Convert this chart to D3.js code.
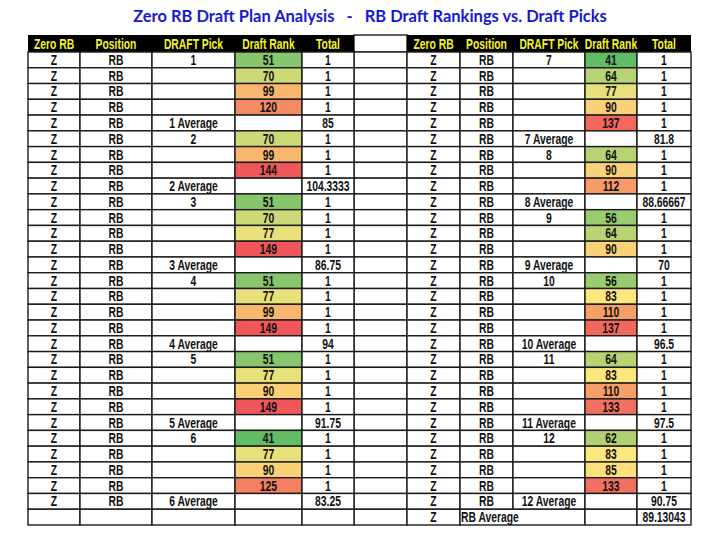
<!DOCTYPE html>
<html>
<head>
<meta charset="utf-8">
<script src="https://cdn.jsdelivr.net/npm/d3@7"></script>
<style>
  html, body { margin: 0; padding: 0; background: #fff; }
  svg { display: block; }
</style>
</head>
<body>
<svg id="chart" width="720" height="540"></svg>
<script>
const headers = ["Zero RB", "Position", "DRAFT Pick", "Draft Rank", "Total"];

// left half of the sheet
const leftZero = ["Z","Z","Z","Z","Z","Z","Z","Z","Z","Z","Z","Z","Z","Z","Z","Z","Z","Z","Z","Z","Z","Z","Z","Z","Z","Z","Z","Z","Z",""];
const leftPos = ["RB","RB","RB","RB","RB","RB","RB","RB","RB","RB","RB","RB","RB","RB","RB","RB","RB","RB","RB","RB","RB","RB","RB","RB","RB","RB","RB","RB","RB",""];
const leftPicks = ["1","","","","1 Average","2","","","2 Average","3","","","","3 Average","4","","","","4 Average","5","","","","5 Average","6","","","","6 Average",""];
const leftRanks = [51,70,99,120,null,70,99,144,null,51,70,77,149,null,51,77,99,149,null,51,77,90,149,null,41,77,90,125,null,null];
const leftTotals = ["1","1","1","1","85","1","1","1","104.3333","1","1","1","1","86.75","1","1","1","1","94","1","1","1","1","91.75","1","1","1","1","83.25",""];

// right half of the sheet
const rightZero = ["Z","Z","Z","Z","Z","Z","Z","Z","Z","Z","Z","Z","Z","Z","Z","Z","Z","Z","Z","Z","Z","Z","Z","Z","Z","Z","Z","Z","Z","Z"];
const rightPos = ["RB","RB","RB","RB","RB","RB","RB","RB","RB","RB","RB","RB","RB","RB","RB","RB","RB","RB","RB","RB","RB","RB","RB","RB","RB","RB","RB","RB","RB","RB Average"];
const rightPicks = ["7","","","","","7 Average","8","","","8 Average","9","","","9 Average","10","","","","10 Average","11","","","","11 Average","12","","","","12 Average",""];
const rightRanks = [41,64,77,90,137,null,64,90,112,null,56,64,90,null,56,83,110,137,null,64,83,110,133,null,62,83,85,133,null,null];
const rightTotals = ["1","1","1","1","1","81.8","1","1","1","88.66667","1","1","1","70","1","1","1","1","96.5","1","1","1","1","97.5","1","1","1","1","90.75","89.13043"];

const svg = d3.select("#chart");
// Arial-metric font squeezed horizontally to stand in for Arial Narrow Bold
const font = "'Liberation Sans', Arial, sans-serif";
const squeeze = 0.74;

// title
const title = svg.append("text")
    .attr("x", 370).attr("y", 22)
    .attr("text-anchor", "middle")
    .style("white-space", "pre")
    .attr("font-family", "Lato, 'Open Sans', sans-serif")
    .attr("font-weight", "bold")
    .attr("font-size", 17)
    .attr("fill", "#1818D2")
    .text("Zero RB Draft Plan Analysis   -   RB Draft Rankings vs. Draft Picks");
const tw = title.node().getComputedTextLength();
title.attr("font-size", 17 * 474 / tw);

const headerTop = 35, headerBottom = 52, tableBottom = 525;
const nRows = leftRanks.length;
const y = d3.scaleBand().domain(d3.range(nRows)).range([headerBottom, tableBottom]);

// green - yellow - orange - red conditional formatting
const color = d3.scaleLinear()
    .domain([41, 83, 100, 145])
    .range(["#62BC66", "#FDE67E", "#F9B46C", "#F0575A"])
    .clamp(true);

const leftEdges = [28, 80, 152, 235, 302, 354];
const rightEdges = [407, 460, 513, 585, 637, 691];
const gapEdges = [354, 407];

const stroke = "#1a1a1a", sw = 1.4;

function cellText(g, x, yy, txt, anchor, fill) {
  g.append("text")
    .attr("transform", `translate(${x},${yy}) scale(${squeeze},1)`)
    .attr("dy", "0.36em")
    .attr("text-anchor", anchor || "middle")
    .attr("font-family", font)
    .attr("font-weight", "bold")
    .attr("font-size", 14)
    .attr("fill", fill || "#111")
    .text(txt);
}

function drawBlock(edges, cols) {
  const g = svg.append("g");
  // header band
  g.append("rect")
    .attr("x", edges[0]).attr("y", headerTop)
    .attr("width", edges[edges.length - 1] - edges[0])
    .attr("height", headerBottom - headerTop)
    .attr("fill", "#000");
  headers.forEach((h, i) => {
    cellText(g, (edges[i] + edges[i + 1]) / 2, (headerTop + headerBottom) / 2, h, "middle", "#F4F42A");
  });

  d3.range(nRows).forEach(r => {
    const y0 = y(r), h = y.bandwidth(), cy = y0 + h / 2;
    let c = 0;
    while (c < cols.length) {
      const v = cols[c][r];
      // a long label in the Position column runs over into the next cell
      if (c === 1 && v.length > 2 && cols[2][r] === "") {
        g.append("rect")
          .attr("x", edges[1]).attr("y", y0)
          .attr("width", edges[3] - edges[1]).attr("height", h)
          .attr("fill", "#fff").attr("stroke", stroke).attr("stroke-width", sw);
        cellText(g, edges[1] + 1, cy, v, "start");
        c += 2;
        continue;
      }
      const isRank = c === 3;
      g.append("rect")
        .attr("x", edges[c]).attr("y", y0)
        .attr("width", edges[c + 1] - edges[c]).attr("height", h)
        .attr("fill", isRank && v != null ? color(v) : "#fff")
        .attr("stroke", stroke).attr("stroke-width", sw);
      if (v != null && v !== "") cellText(g, (edges[c] + edges[c + 1]) / 2, cy, String(v));
      c++;
    }
  });
}

// spacer column between the two halves
const gap = svg.append("g");
gap.append("rect")
  .attr("x", gapEdges[0]).attr("y", headerTop)
  .attr("width", gapEdges[1] - gapEdges[0]).attr("height", headerBottom - headerTop)
  .attr("fill", "#fff").attr("stroke", stroke).attr("stroke-width", sw);
gap.selectAll("rect.gap")
  .data(d3.range(nRows))
  .join("rect")
  .attr("class", "gap")
  .attr("x", gapEdges[0]).attr("y", d => y(d))
  .attr("width", gapEdges[1] - gapEdges[0]).attr("height", y.bandwidth())
  .attr("fill", "#fff").attr("stroke", stroke).attr("stroke-width", sw);

drawBlock(leftEdges, [leftZero, leftPos, leftPicks, leftRanks, leftTotals]);
drawBlock(rightEdges, [rightZero, rightPos, rightPicks, rightRanks, rightTotals]);
</script>
</body>
</html>
